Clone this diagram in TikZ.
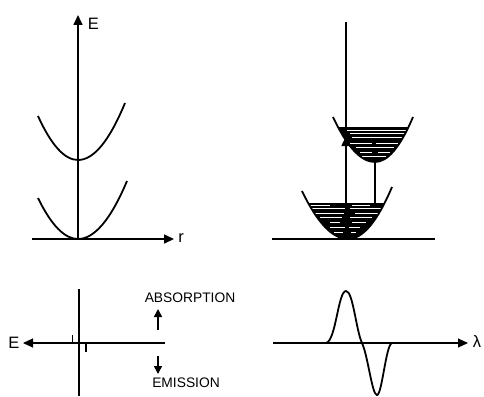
\documentclass[tikz,border=0pt]{standalone}
\usepackage{fontspec}
\setmainfont{Liberation Sans}
\usetikzlibrary{arrows.meta}
\begin{document}
\begin{tikzpicture}[x=1pt,y=-1pt,
  curve/.style={line width=1.8pt},
  axis/.style={line width=1.6pt},
  thin axis/.style={line width=1.1pt},
  tip/.style={-{Triangle[length=10pt,width=9pt]}},
  lbl/.style={font=\fontsize{16.5}{17}\selectfont, inner sep=0pt},
  captext/.style={font=\fontsize{13.8}{14}\selectfont, inner sep=0pt},
  hatch/.style={white, line width=0.7pt}]
\useasboundingbox (0,0) rectangle (484,396);

% ---------- upper left panel ----------
\coordinate (Lo) at (78,239);
\coordinate (Eaxtop) at (78,15);
\coordinate (rstart) at (32,239);
\coordinate (rtip) at (174,239);
\draw[axis,tip] (Lo) -- (Eaxtop);
\draw[axis,tip] (rstart) -- (rtip);
\node[lbl] (Elab) at (93.5,24) {E};
\node[lbl] (rlab) at (181,238) {r};
% lower curve
\draw[curve] (38,198) .. controls (51.3,225.3) and (64.7,239) .. (78,239)
  .. controls (94.3,239) and (110.7,219.7) .. (127,181);
% upper curve
\draw[curve] (38,116) .. controls (51.3,145.3) and (64.7,160) .. (78,160)
  .. controls (93.7,160) and (109.3,141) .. (125,103);

% ---------- upper right panel ----------
\coordinate (Rbl) at (272,239);
\coordinate (Rbr) at (435,239);
\draw[thin axis] (Rbl) -- (Rbr);
% lower well filled
\begin{scope}
  \clip (302,191) .. controls (317.3,223) and (332.7,239) .. (348,239)
    .. controls (362.7,239) and (377.3,221.7) .. (392,187) -- cycle;
  \fill (290,203) rectangle (400,240);
  \draw[hatch] (310,205.5) -- (330,205.5) (352,205.5) -- (370,205.5);
  \draw[hatch] (306,208.5) -- (346,208.5) (350,208.5) -- (385,208.5);
  \draw[hatch] (314,213) -- (344,213) (355,213) -- (378,213);
  \draw[hatch] (320,217) -- (342,217) (350,217) -- (372,217);
  \draw[hatch] (330,222) -- (340,222) (352,222) -- (366,222);
  \draw[hatch] (330,227) -- (345,227) (349,227) -- (360,227);
  \draw[hatch] (334,232) -- (343,232) (351,232) -- (356,232);
\end{scope}
\draw[curve] (302,191) .. controls (317.3,223) and (332.7,239) .. (348,239)
    .. controls (362.7,239) and (377.3,221.7) .. (392,187);
% upper well filled
\begin{scope}
  \clip (333,117) .. controls (347,147) and (361,162) .. (375,162)
    .. controls (387.7,162) and (400.3,147) .. (413,117) -- cycle;
  \fill (320,127) rectangle (420,163);
  \draw[hatch] (346,130) -- (410,130);
  \draw[hatch] (350,133.5) -- (406,133.5);
  \draw[hatch] (352,137.5) -- (402,137.5);
  \draw[hatch] (350,143) -- (372,143) (376,143) -- (398,143);
  \draw[hatch] (356,147) -- (394,147);
  \draw[hatch] (360,152) -- (372,152) (378,152) -- (390,152);
  \draw[hatch] (362,156) -- (386,156);
\end{scope}
\draw[curve] (333,117) .. controls (347,147) and (361,162) .. (375,162)
    .. controls (387.7,162) and (400.3,147) .. (413,117);
% vertical line (axis) and absorption arrow
\coordinate (Rtop) at (346,22);
\coordinate (Rbot) at (346,239);
\coordinate (Rarr) at (346,136);
\draw[axis] (Rbot) -- (Rtop);
\draw[axis,tip] (Rbot) -- (Rarr);
% emission connector between the wells
\coordinate (Uv) at (375,162);
\coordinate (Lf) at (375,203);
\draw[line width=1.8pt] (Uv) -- (Lf);

% ---------- lower left panel ----------
\coordinate (BLv1) at (79,289);
\coordinate (BLv2) at (79,396);
\coordinate (BLr) at (165,343);
\coordinate (BLl) at (23,343);
\draw[axis] (BLv1) -- (BLv2);
\draw[thin axis,tip] (BLr) -- (BLl);
\node[lbl] (E2) at (14,343) {E};
\draw[line width=1.4pt] (72.5,343) -- (72.5,335);
\draw[line width=1.4pt] (86,343) -- (86,352);
\node[captext] (abs) at (190,298) {ABSORPTION};
\node[captext] (emi) at (186,383) {EMISSION};
\coordinate (Aup1) at (158,330);
\coordinate (Aup2) at (158,309);
\coordinate (Adn1) at (158,356);
\coordinate (Adn2) at (158,374);
\draw[axis,-{Triangle[length=8pt,width=8pt]}] (Aup1) -- (Aup2);
\draw[axis,-{Triangle[length=8pt,width=8pt]}] (Adn1) -- (Adn2);

% ---------- lower right panel ----------
\coordinate (BRl) at (273,343);
\coordinate (BRr) at (468,343);
\draw[thin axis,tip] (BRl) -- (BRr);
\node[lbl] (lam) at (477,342) {λ};
\draw[curve] (326,343) .. controls (336,341) and (338,291) .. (346,291)
  .. controls (353,291) and (356,330) .. (362,343)
  .. controls (368,356) and (372,395) .. (377,395)
  .. controls (382,395) and (386,344) .. (392,343) -- (400,343);
\end{tikzpicture}
\end{document}
